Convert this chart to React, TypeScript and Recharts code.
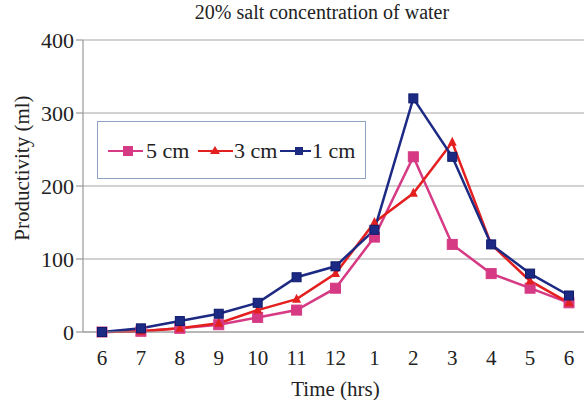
import React from 'react';
import { LineChart, Line, XAxis, YAxis, CartesianGrid, Label } from 'recharts';

const hours = ['6', '7', '8', '9', '10', '11', '12', '1', '2', '3', '4', '5', '6'];
const cm5 = [0, 1, 5, 10, 20, 30, 60, 130, 240, 120, 80, 60, 40];
const cm3 = [0, 1, 5, 12, 30, 45, 80, 150, 190, 260, 120, 70, 40];
const cm1 = [0, 5, 15, 25, 40, 75, 90, 140, 320, 240, 120, 80, 50];
const yTicks = [0, 100, 200, 300, 400];

const data = hours.map((h, i) => ({ idx: i, hour: h, cm5: cm5[i], cm3: cm3[i], cm1: cm1[i] }));

const FONT = '"Liberation Serif", "Times New Roman", serif';
const C5 = '#d63a84';
const C3 = '#e3201f';
const C1 = '#1c2a84';

const Square = (color: string, size: number, stroke?: string) => (props: any) => {
  const { cx, cy, index } = props;
  if (cx == null || cy == null) return <g key={index} />;
  return (
    <rect
      key={index}
      x={cx - size / 2}
      y={cy - size / 2}
      width={size}
      height={size}
      fill={color}
      stroke={stroke || color}
      strokeWidth={1}
    />
  );
};

const Triangle = (color: string, size: number) => (props: any) => {
  const { cx, cy, index } = props;
  if (cx == null || cy == null) return <g key={index} />;
  const h = size;
  return (
    <polygon
      key={index}
      points={`${cx},${cy - h / 2 - 1} ${cx - h / 2},${cy + h / 2 - 1} ${cx + h / 2},${cy + h / 2 - 1}`}
      fill={color}
    />
  );
};

const LegendBox = () => {
  const items = [
    { label: '5 cm', color: C5, kind: 'sq', l0: 11, l1: 46, m: 31, t: 49 },
    { label: '3 cm', color: C3, kind: 'tri', l0: 101, l1: 136, m: 118, t: 137 },
    { label: '1 cm', color: C1, kind: 'sq1', l0: 183, l1: 214, m: 202, t: 215 },
  ];
  return (
    <div
      style={{
        position: 'absolute',
        left: 97,
        top: 121,
        width: 269,
        height: 58,
        border: '1.5px solid #8ea3c4',
        background: '#fff',
        boxSizing: 'border-box',
      }}
    >
      <svg width={269} height={58} style={{ position: 'absolute', left: -1.5, top: -1.5 }}>
        {items.map((it) => {
          const y = 30;
          return (
            <g key={it.label}>
              <line x1={it.l0} y1={y} x2={it.l1} y2={y} stroke={it.color} strokeWidth={2} />
              {it.kind === 'sq' && <rect x={it.m - 5} y={y - 5} width={10} height={10} fill={it.color} />}
              {it.kind === 'sq1' && <rect x={it.m - 4} y={y - 4} width={8} height={8} fill={it.color} />}
              {it.kind === 'tri' && (
                <polygon points={`${it.m},${y - 5} ${it.m - 5},${y + 3} ${it.m + 5},${y + 3}`} fill={it.color} />
              )}
              <text x={it.t} y={y + 7} fontFamily={FONT} fontSize={22} fill="#222">
                {it.label}
              </text>
            </g>
          );
        })}
      </svg>
    </div>
  );
};

const YLabel = () => (
  <text
    x={22}
    y={168}
    transform="rotate(-90, 22, 168)"
    textAnchor="middle"
    dominantBaseline="central"
    fontFamily={FONT}
    fontSize={21}
    fill="#222"
  >
    Productivity (ml)
  </text>
);

export default function App() {
  return (
    <div style={{ position: 'absolute', left: 0, top: 0, width: 584, height: 400, overflow: 'hidden', background: '#fff' }}>
      <div
        style={{
          position: 'absolute',
          left: 0,
          width: 644,
          top: 1,
          textAlign: 'center',
          fontFamily: FONT,
          fontSize: 20,
          color: '#222',
        }}
      >
        20% salt concentration of water
      </div>
      <LineChart
        width={588}
        height={400}
        data={data}
        margin={{ top: 40, right: 0, left: 0, bottom: 0 }}
        style={{ position: 'absolute', left: 0, top: 0 }}
      >
        <CartesianGrid vertical={false} stroke="#a6a6a6" strokeWidth={1.2} />
        <XAxis
          dataKey="idx"
          type="category"
          tickFormatter={(v: any) => hours[v]}
          height={68}
          padding={{ left: 19, right: 19 }}
          axisLine={{ stroke: '#999', strokeWidth: 1.2 }}
          tickLine={false}
          tick={{ fontFamily: FONT, fontSize: 21, fill: '#222' }}
          tickMargin={12}
          interval={0}
        >
          <Label value="Time (hrs)" position="insideBottom" offset={4} style={{ fontFamily: FONT, fontSize: 21, fill: '#222' }} />
        </XAxis>
        <YAxis
          width={83}
          domain={[0, 400]}
          ticks={yTicks}
          interval={0}
          axisLine={{ stroke: '#999', strokeWidth: 1.2 }}
          tickLine={{ stroke: '#999', strokeWidth: 1.2 }}
          tickSize={7}
          tick={{ fontFamily: FONT, fontSize: 22, fill: '#222' }}
        />
        <Line dataKey="cm5" stroke={C5} strokeWidth={2.5} dot={Square(C5, 10)} isAnimationActive={false} />
        <Line dataKey="cm3" stroke={C3} strokeWidth={2.5} dot={Triangle(C3, 9)} isAnimationActive={false} />
        <Line dataKey="cm1" stroke={C1} strokeWidth={2.5} dot={Square(C1, 9, '#0e1a6a')} isAnimationActive={false} />
      </LineChart>
      <svg width={60} height={400} style={{ position: 'absolute', left: 0, top: 0, pointerEvents: 'none' }}>
        <YLabel />
      </svg>
      <LegendBox />
    </div>
  );
}
